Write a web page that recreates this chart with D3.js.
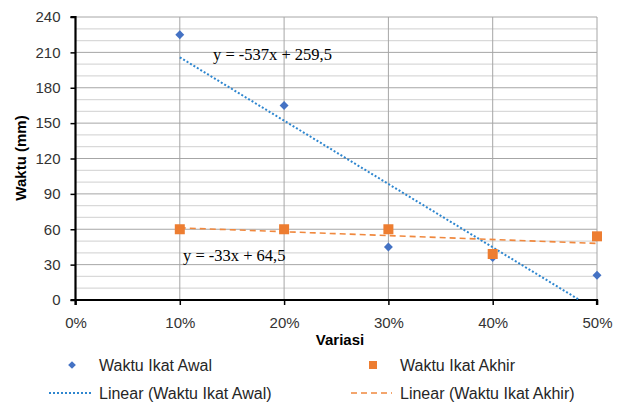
<!DOCTYPE html>
<html><head><meta charset="utf-8">
<script src="https://cdn.jsdelivr.net/npm/d3@7"></script>
<style>body{margin:0;background:#fff}svg text{font-family:"Liberation Sans",Arial,sans-serif}</style>
</head><body><svg id="c" width="624" height="403"></svg>
<script>
const variasi = [0.1, 0.2, 0.3, 0.4, 0.5];
const waktuAwal = [225, 165, 45, 36, 21];
const waktuAkhir = [60, 60, 60, 39, 54];
const xTicks = [0, 0.1, 0.2, 0.3, 0.4, 0.5];
const yTicks = [0, 30, 60, 90, 120, 150, 180, 210, 240];
const seriesNames = ["Waktu Ikat Awal", "Waktu Ikat Akhir", "Linear (Waktu Ikat Awal)", "Linear (Waktu Ikat Akhir)"];
const eqLabels = ["y = -537x + 259,5", "y = -33x + 64,5"];

function fit(xs, ys) {
  const n = xs.length, mx = d3.mean(xs), my = d3.mean(ys);
  let sxy = 0, sxx = 0;
  for (let i = 0; i < n; i++) { sxy += (xs[i]-mx)*(ys[i]-my); sxx += (xs[i]-mx)**2; }
  const m = sxy/sxx; return {m, b: my - m*mx};
}

const svg = d3.select("#c");
const x = d3.scaleLinear().domain([0, 0.5]).range([75.5, 597]);
const y = d3.scaleLinear().domain([0, 240]).range([300, 17]);

// minor grid
const minor = d3.range(0, 241, 10).filter(v => v % 30 !== 0);
svg.append("g").selectAll("line").data(minor).join("line")
  .attr("x1", x(0)).attr("x2", x(0.5)).attr("y1", d => y(d)).attr("y2", d => y(d))
  .attr("stroke", "#d9d9d9").attr("stroke-width", 1.3);
// major grid
svg.append("g").selectAll("line").data(yTicks.slice(1)).join("line")
  .attr("x1", x(0)).attr("x2", x(0.5)).attr("y1", d => y(d)).attr("y2", d => y(d))
  .attr("stroke", "#a6a6a6").attr("stroke-width", 1);
svg.append("g").selectAll("line").data(xTicks.slice(1)).join("line")
  .attr("x1", d => x(d)).attr("x2", d => x(d)).attr("y1", y(0)).attr("y2", y(240))
  .attr("stroke", "#a6a6a6").attr("stroke-width", 1);

// axes
const yAxis = svg.append("g").attr("transform", `translate(${x(0)},0)`)
  .call(d3.axisLeft(y).tickValues(yTicks).tickSize(5).tickPadding(10));
const xAxis = svg.append("g").attr("transform", `translate(0,${y(0)})`)
  .call(d3.axisBottom(x).tickValues(xTicks).tickSize(5).tickPadding(12).tickFormat(d3.format(".0%")));
[yAxis, xAxis].forEach(a => {
  a.select(".domain").attr("stroke", "#000").attr("stroke-width", 2.2);
  a.selectAll(".tick line").attr("stroke", "#000").attr("stroke-width", 1.5);
  a.selectAll(".tick text").attr("font-size", 15).attr("fill", "#333");
});
yAxis.select(".domain").attr("d", `M-5,${y(0)}H0V${y(240)}H-5`);
xAxis.select(".domain").attr("d", `M${x(0)},5V0H${x(0.5)}V5`);

// trendlines
const fA = fit(variasi, waktuAwal), fB = fit(variasi, waktuAkhir);
const xEndA = Math.min(0.5, -fA.b / fA.m);
svg.append("line").attr("x1", x(0.1)).attr("y1", y(fA.m*0.1+fA.b))
  .attr("x2", x(xEndA)).attr("y2", y(fA.m*xEndA+fA.b))
  .attr("stroke", "#2e86cf").attr("stroke-width", 2).attr("stroke-dasharray", "2,2");
svg.append("line").attr("x1", x(0.1)).attr("y1", y(fB.m*0.1+fB.b))
  .attr("x2", x(0.5)).attr("y2", y(fB.m*0.5+fB.b))
  .attr("stroke", "#f0883e").attr("stroke-width", 1.6).attr("stroke-dasharray", "6,4");

// markers
svg.append("g").selectAll("path").data(variasi).join("path")
  .attr("d", d3.symbol().type(d3.symbolSquare).size(40))
  .attr("transform", (d,i) => `translate(${x(d)},${y(waktuAwal[i])}) rotate(45)`)
  .attr("fill", "#4472c4");
svg.append("g").selectAll("rect").data(variasi).join("rect")
  .attr("x", d => x(d) - 5).attr("y", (d,i) => y(waktuAkhir[i]) - 5)
  .attr("width", 10).attr("height", 10).attr("fill", "#ed7d31");

// equation labels
svg.append("text").attr("x", 213).attr("y", 60).text(eqLabels[0])
  .style("font-family", "'Liberation Serif',serif").attr("font-size", 16.5).attr("fill", "#000");
svg.append("text").attr("x", 183).attr("y", 261).text(eqLabels[1])
  .style("font-family", "'Liberation Serif',serif").attr("font-size", 16.5).attr("fill", "#000");

// axis titles
svg.append("text").attr("x", 340).attr("y", 345).attr("text-anchor", "middle")
  .attr("font-size", 15).attr("font-weight", "bold").attr("fill", "#000").text("Variasi");
svg.append("text").attr("transform", "translate(26,158) rotate(-90)").attr("text-anchor", "middle")
  .attr("font-size", 15).attr("font-weight", "bold").attr("fill", "#000").text("Waktu (mm)");

// legend
const lg = svg.append("g").attr("font-size", 16).attr("fill", "#262626");
lg.append("path").attr("d", d3.symbol().type(d3.symbolSquare).size(30)).attr("transform", "translate(72,365) rotate(45)").attr("fill", "#4472c4");
lg.append("rect").attr("x", 369).attr("y", 361).attr("width", 8).attr("height", 8).attr("fill", "#ed7d31");
lg.append("line").attr("x1", 49).attr("x2", 92).attr("y1", 393).attr("y2", 393)
  .attr("stroke", "#2e86cf").attr("stroke-width", 2).attr("stroke-dasharray", "2,2");
lg.append("line").attr("x1", 351).attr("x2", 392).attr("y1", 393).attr("y2", 393)
  .attr("stroke", "#f0883e").attr("stroke-width", 1.6).attr("stroke-dasharray", "6,4");
[[99,371,0],[400,371,1],[99,399,2],[400,399,3]].forEach(([tx,ty,i]) =>
  lg.append("text").attr("x", tx).attr("y", ty).attr("fill", "#262626").text(seriesNames[i]));
</script></body></html>
